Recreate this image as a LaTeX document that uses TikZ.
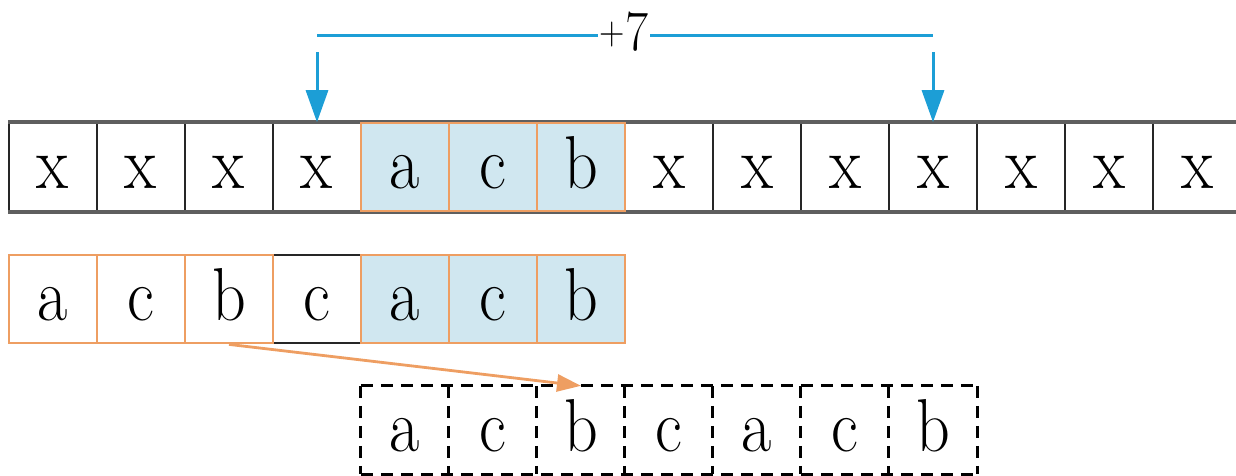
\documentclass[tikz,border=0pt]{standalone}
\usepackage{fontspec}
\usetikzlibrary{arrows.meta}
\newfontfamily\cellfont{lmroman17-regular.otf}[FakeStretch=0.88]
\definecolor{skyline}{RGB}{28,158,214}
\definecolor{cellblue}{RGB}{208,231,240}
\definecolor{cellorange}{RGB}{238,158,98}
\definecolor{rowgray}{RGB}{95,95,95}
\begin{document}
\begin{tikzpicture}[x=1pt,y=-1pt,
  cell/.style={rectangle, minimum width=88pt, minimum height=88pt, inner sep=0pt,
    text height=52pt, text depth=10pt, font=\cellfont\fontsize{75}{75}\selectfont},
  plaincell/.style={cell, draw=black!85, line width=1.6pt},
  hotcell/.style={cell, draw=cellorange, line width=2.8pt},
  hotblue/.style={hotcell, fill=cellblue},
  ghostcell/.style={cell},
  ghostline/.style={draw=black, line width=3pt, dash pattern=on 12pt off 8pt},
  rowedge/.style={draw=rowgray, line width=3.8pt},
  skylineln/.style={draw=skyline, line width=3pt},
  skyarrow/.style={skylineln, -{Triangle[length=32pt,width=22pt]}},
  hotarrow/.style={draw=cellorange, line width=2.8pt, -{Triangle[length=24pt,width=17pt]}},
  jumplabel/.style={anchor=base, inner sep=2pt, font=\cellfont\fontsize{57}{57}\selectfont}
]
\useasboundingbox (0,0) rectangle (1236,475);
% ---- row 1
\foreach \i in {0,1,2,3,7,8,9,10,11,12,13}
  \node[plaincell] (r1c\i) at (53+88*\i,167) {x};
\draw[rowedge] (r1c0.north west) -- (r1c13.north east);
\draw[rowedge] (r1c0.south west) -- (r1c13.south east);
\node[hotblue] (r1c4) at (53+88*4,167) {a};
\node[hotblue] (r1c5) at (53+88*5,167) {c};
\node[hotblue] (r1c6) at (53+88*6,167) {b};
% ---- row 2
\node[cell] (r2c3) at (53+88*3,299) {c};
\draw[black!85, line width=1.8pt] (r2c3.north west) -- (r2c3.north east);
\draw[black!85, line width=1.8pt] (r2c3.south west) -- (r2c3.south east);
\node[hotcell] (r2c0) at (53,299) {a};
\node[hotcell] (r2c1) at (53+88,299) {c};
\node[hotcell] (r2c2) at (53+88*2,299) {b};
\node[hotblue] (r2c4) at (53+88*4,299) {a};
\node[hotblue] (r2c5) at (53+88*5,299) {c};
\node[hotblue] (r2c6) at (53+88*6,299) {b};
% ---- row 3 (dashed)
\foreach \i/\t in {4/a,5/c,6/b,7/c,8/a,9/c,10/b}
  \node[ghostcell] (r3c\i) at (53+88*\i,430) {\t};
\draw[ghostline] (r3c4.north west) -- (r3c10.north east);
\draw[ghostline] (r3c4.south west) -- (r3c10.south east);
\foreach \i in {4,...,10}
  \draw[ghostline] (r3c\i.north west) -- (r3c\i.south west);
\draw[ghostline] (r3c10.north east) -- (r3c10.south east);
% ---- +7 bracket
\coordinate (jl) at (r1c3.north |- 0,35);
\coordinate (jr) at (r1c10.north |- 0,35);
\node[jumplabel] (seven) at (624,50) {\raisebox{6pt}{\fontsize{40}{40}\selectfont+}7};
\draw[skylineln] (jl) -- (jl -| seven.west);
\draw[skylineln] (jr -| seven.east) -- (jr);
\coordinate (al) at (r1c3.north |- 0,52);
\coordinate (ar) at (r1c10.north |- 0,52);
\draw[skyarrow] (al) -- (r1c3.north);
\draw[skyarrow] (ar) -- (r1c10.north);
% ---- orange arrow
\draw[hotarrow] (r2c2.south) -- (r3c6.north);
\end{tikzpicture}
\end{document}
